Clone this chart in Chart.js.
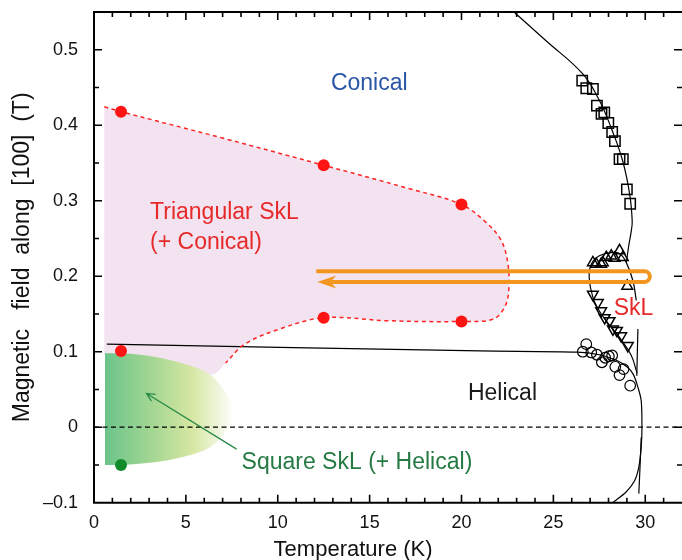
<!DOCTYPE html>
<html>
<head>
<meta charset="utf-8">
<script src="https://cdn.jsdelivr.net/npm/chart.js@4.4.1/dist/chart.umd.min.js"></script>
<style>
  html, body { margin: 0; padding: 0; background: #fff; }
  #caixa { width: 682px; height: 560px; }
</style>
</head>
<body>
<div id="caixa"><canvas id="diagrama"></canvas></div>
<script>
// Eixos
const xTickLabels = [0, 5, 10, 15, 20, 25, 30];
const yTickLabels = [-0.1, 0, 0.1, 0.2, 0.3, 0.4, 0.5];

// Pontos medidos
const redDotT = [1.47, 12.5, 20.0, 20.0, 12.5, 1.47];
const redDotB = [0.418, 0.347, 0.295, 0.140, 0.145, 0.101];
const greenDotT = [1.47];
const greenDotB = [-0.050];

const squareT = [26.57, 26.79, 27.15, 27.37, 27.62, 27.77, 27.99, 28.2, 28.35, 28.6, 28.78, 29.0, 29.18];
const squareB = [0.459, 0.449, 0.448, 0.426, 0.415, 0.417, 0.403, 0.391, 0.379, 0.355, 0.355, 0.315, 0.296];

const triUpT = [27.15, 27.33, 27.6, 27.69, 27.88, 28.15, 28.33, 28.6, 28.78, 29.02];
const triUpB = [0.218, 0.216, 0.216, 0.218, 0.225, 0.227, 0.224, 0.234, 0.225, 0.187];

const triDownT = [27.15, 27.42, 27.6, 27.79, 28.06, 28.24, 28.46, 28.69, 29.05];
const triDownB = [0.176, 0.165, 0.154, 0.145, 0.141, 0.130, 0.128, 0.121, 0.108];

const circleT = [26.79, 26.6, 27.06, 27.37, 27.64, 27.82, 28.02, 28.2, 28.37, 28.6, 28.82, 29.18];
const circleB = [0.110, 0.100, 0.099, 0.096, 0.086, 0.092, 0.094, 0.095, 0.080, 0.069, 0.077, 0.055];

// Fronteiras de fase
const redLineT = [0.56, 1.47, 7.0, 12.5, 17.0, 20.0, 21.35, 22.17, 22.53, 22.57, 22.35, 21.71, 20.0, 16.0, 12.5, 10.1, 8.2, 7.16];
const redLineB = [0.4245, 0.418, 0.383, 0.347, 0.317, 0.295, 0.271, 0.247, 0.216, 0.181, 0.159, 0.143, 0.140, 0.141, 0.145, 0.130, 0.110, 0.085];

const pinkLowT = [6.5, 5.76, 3.95, 2.14, 0.56];
const pinkLowB = [0.070, 0.074, 0.087, 0.094, 0.095];

const greenT = [0.6, 2.14, 3.95, 5.76, 6.67, 7.4, 7.6, 7.4, 6.67, 5.76, 3.95, 2.14, 0.6];
const greenB = [0.098, 0.097, 0.090, 0.077, 0.062, 0.035, 0.020, 0.004, -0.020, -0.033, -0.044, -0.049, -0.050];

const upperT = [22.9, 24.6, 26.6, 27.5, 28.2, 28.77, 29.15, 29.29, 29.24, 29.1, 28.97];
const upperB = [0.549, 0.512, 0.468, 0.433, 0.393, 0.353, 0.309, 0.273, 0.260, 0.240, 0.218];

const pocketT = [29.51, 29.33, 28.97, 28.6, 28.06, 27.5, 27.06, 26.95, 27.15, 27.5, 28.0, 28.6, 29.24, 29.55];
const pocketB = [0.168, 0.194, 0.218, 0.230, 0.231, 0.227, 0.216, 0.198, 0.172, 0.154, 0.137, 0.119, 0.095, 0.072];

const helicalT = [0.7, 21.0, 26.3, 27.5, 28.4, 29.0, 29.35, 29.6, 29.78, 29.82, 29.78, 29.65, 29.42, 28.97, 28.24];
const helicalB = [0.110, 0.101, 0.0995, 0.096, 0.089, 0.080, 0.070, 0.053, 0.035, 0.0, -0.026, -0.053, -0.071, -0.0855, -0.100];

const dashT = [29.6, 29.54, 29.7, 29.78, 29.72, 29.65];
const dashB = [0.130, 0.068, null, -0.0135, -0.05, -0.088];

const zeroT = [0, 32];
const zeroB = [0, 0];

// Setas
const loopT = [12.1, 30.25];
const loopB = [0.2065, 0.1925];
const greenArrowT = [7.76, 2.86];
const greenArrowB = [-0.029, 0.0447];

const familia = "'Liberation Sans', Arial, Helvetica, sans-serif";

const rotulos = [
  { text: 'Conical', T: 14.98, B: 0.455, color: '#2a55a6', align: 'center', size: 23 },
  { text: 'Triangular SkL', T: 3.05, B: 0.2845, color: '#e62a2a', align: 'left', size: 23 },
  { text: '(+ Conical)', T: 3.05, B: 0.2448, color: '#e62a2a', align: 'left', size: 23 },
  { text: 'SkL', T: 28.28, B: 0.157, color: '#e62a2a', align: 'left', size: 23 },
  { text: 'Helical', T: 22.23, B: 0.044, color: '#1a1a1a', align: 'center', size: 23 },
  { text: 'Square SkL (+ Helical)', T: 8.03, B: -0.0466, color: '#247a42', align: 'left', size: 23 },
  { text: 'Temperature (K)', T: 14.1, B: -0.162, color: '#111', align: 'center', size: 22 }
];

function pts(T, B) {
  return T.map((t, i) => ({ x: t, y: B[i] }));
}

function isMajorY(v) {
  return yTickLabels.some(t => Math.abs(t - v) < 1e-6);
}

function gradienteVerde(context) {
  const chart = context.chart;
  const { ctx, chartArea, scales } = chart;
  if (!chartArea || !scales.x) return '#8fd09e';
  const x0 = scales.x.getPixelForValue(greenT[0]);
  const x1 = scales.x.getPixelForValue(Math.max(...greenT));
  const g = ctx.createLinearGradient(x0, 0, x1, 0);
  g.addColorStop(0, '#6cc48a');
  g.addColorStop(0.4, '#a9d894');
  g.addColorStop(0.68, '#d6e7a3');
  g.addColorStop(0.88, '#eef5dc');
  g.addColorStop(1, '#ffffff');
  return g;
}

function linha(data, cor, extra) {
  return Object.assign({
    data: data,
    showLine: true,
    borderColor: cor,
    borderWidth: 1.3,
    pointRadius: 0,
    fill: false,
    tension: 0.4
  }, extra || {});
}

function marcador(data, estilo, raio, extra) {
  return Object.assign({
    data: data,
    showLine: false,
    pointStyle: estilo,
    pointRadius: raio,
    pointBackgroundColor: 'rgba(0,0,0,0)',
    pointBorderColor: '#000',
    pointBorderWidth: 1.5
  }, extra || {});
}

// Moldura com marcas internas
const moldura = {
  id: 'moldura',
  afterDatasetsDraw(chart) {
    const { ctx, chartArea: a, scales: { x, y } } = chart;
    ctx.save();
    ctx.strokeStyle = '#000';
    ctx.lineWidth = 1.6;
    ctx.beginPath();
    x.ticks.forEach(t => {
      if (t.value <= x.min || t.value >= x.max) return;
      const px = x.getPixelForValue(t.value);
      const len = xTickLabels.includes(t.value) ? 8 : 5;
      ctx.moveTo(px, a.bottom);
      ctx.lineTo(px, a.bottom - len);
      ctx.moveTo(px, a.top);
      ctx.lineTo(px, a.top + len);
    });
    y.ticks.forEach(t => {
      if (t.value <= y.min || t.value >= y.max) return;
      const py = y.getPixelForValue(t.value);
      const len = isMajorY(t.value) ? 8 : 5;
      ctx.moveTo(a.left, py);
      ctx.lineTo(a.left + len, py);
      ctx.moveTo(a.right, py);
      ctx.lineTo(a.right - len, py);
    });
    ctx.stroke();
    ctx.lineWidth = 2;
    ctx.beginPath();
    ctx.moveTo(a.right + 2, a.top);
    ctx.lineTo(a.left, a.top);
    ctx.lineTo(a.left, a.bottom);
    ctx.lineTo(a.right + 2, a.bottom);
    ctx.stroke();
    ctx.restore();
  }
};

// Setas e textos
const anotacoes = {
  id: 'anotacoes',
  afterDatasetsDraw(chart) {
    const { ctx, scales: { x, y } } = chart;
    ctx.save();

    // seta laranja
    const xl = x.getPixelForValue(loopT[0]);
    const yt = y.getPixelForValue(loopB[0]);
    const yb = y.getPixelForValue(loopB[1]);
    const r = (yb - yt) / 2;
    const xr = x.getPixelForValue(loopT[1]) - r;
    ctx.strokeStyle = '#f2961f';
    ctx.fillStyle = '#f2961f';
    ctx.lineWidth = 4;
    ctx.lineCap = 'butt';
    ctx.beginPath();
    ctx.moveTo(xl, yt);
    ctx.lineTo(xr, yt);
    ctx.arc(xr, (yt + yb) / 2, r, -Math.PI / 2, Math.PI / 2);
    ctx.lineTo(xl + 14, yb);
    ctx.stroke();
    ctx.beginPath();
    ctx.moveTo(xl + 1, yb);
    ctx.lineTo(xl + 20, yb - 6.5);
    ctx.lineTo(xl + 14, yb);
    ctx.lineTo(xl + 20, yb + 6.5);
    ctx.closePath();
    ctx.fill();

    // seta verde
    const gx0 = x.getPixelForValue(greenArrowT[0]);
    const gy0 = y.getPixelForValue(greenArrowB[0]);
    const gx1 = x.getPixelForValue(greenArrowT[1]);
    const gy1 = y.getPixelForValue(greenArrowB[1]);
    const ang = Math.atan2(gy1 - gy0, gx1 - gx0);
    ctx.strokeStyle = '#2a8a48';
    ctx.lineWidth = 1.3;
    ctx.beginPath();
    ctx.moveTo(gx0, gy0);
    ctx.lineTo(gx1, gy1);
    ctx.moveTo(gx1 - 9 * Math.cos(ang - 0.45), gy1 - 9 * Math.sin(ang - 0.45));
    ctx.lineTo(gx1, gy1);
    ctx.lineTo(gx1 - 9 * Math.cos(ang + 0.45), gy1 - 9 * Math.sin(ang + 0.45));
    ctx.stroke();

    // textos
    ctx.textBaseline = 'middle';
    rotulos.forEach(l => {
      ctx.font = l.size + 'px ' + familia;
      ctx.fillStyle = l.color;
      ctx.textAlign = l.align;
      ctx.fillText(l.text, x.getPixelForValue(l.T), y.getPixelForValue(l.B));
    });
    ctx.restore();
  }
};

const datasets = [
  marcador(pts(redDotT, redDotB), 'circle', 6, { pointBackgroundColor: '#ff1414', pointBorderWidth: 0 }),
  marcador(pts(greenDotT, greenDotB), 'circle', 6, { pointBackgroundColor: '#118a2a', pointBorderWidth: 0 }),
  marcador(pts(squareT, squareB), 'rect', 7.3),
  marcador(pts(triUpT, triUpB), 'triangle', 6.2),
  marcador(pts(triDownT, triDownB), 'triangle', 6.2, { pointRotation: 180 }),
  marcador(pts(circleT, circleB), 'circle', 5.3, { pointBorderWidth: 1.2 }),
  linha(pts(redLineT, redLineB), '#ff2424', { borderWidth: 1.5, borderDash: [4, 3.5], tension: 0.35 }),
  linha(pts(zeroT, zeroB), '#000', { borderWidth: 1.2, borderDash: [5, 3.5], tension: 0 }),
  linha(pts(upperT, upperB), '#000', { borderWidth: 1.2 }),
  linha(pts(pocketT, pocketB), '#000', { borderWidth: 1.2 }),
  linha(pts(helicalT, helicalB), '#000', { borderWidth: 1.2, tension: 0.3 }),
  linha(pts(dashT, dashB), '#000', { borderWidth: 1.2, tension: 0.2, spanGaps: false }),
  linha(pts(greenT, greenB), 'rgba(0,0,0,0)', { fill: 'shape', backgroundColor: gradienteVerde, tension: 0.35 }),
  linha(pts(redLineT.concat(pinkLowT), redLineB.concat(pinkLowB)), 'rgba(0,0,0,0)', { fill: 'shape', backgroundColor: '#f3e2ef', tension: 0.35 })
];

new Chart(document.getElementById('diagrama'), {
  type: 'scatter',
  data: { datasets: datasets },
  options: {
    responsive: true,
    maintainAspectRatio: false,
    animation: false,
    devicePixelRatio: 1,
    events: [],
    layout: { autoPadding: false, padding: { top: 12, left: 0, right: 0, bottom: 0 } },
    plugins: { legend: { display: false }, tooltip: { enabled: false } },
    scales: {
      x: {
        type: 'linear',
        min: 0,
        max: 32,
        afterFit: s => {
          s.height = 57.3;
          s.paddingLeft = 0;
          s.paddingRight = 0;
          s.paddingTop = 0;
          s.paddingBottom = 0;
        },
        grid: { display: false, drawTicks: false },
        border: { display: false },
        ticks: {
          stepSize: 1,
          autoSkip: false,
          maxRotation: 0,
          padding: 10,
          color: '#111',
          font: { family: familia, size: 18 },
          callback: v => xTickLabels.includes(v) ? String(v) : ''
        }
      },
      y: {
        type: 'linear',
        min: -0.1,
        max: 0.55,
        afterFit: s => {
          s.width = 94;
          s.paddingLeft = 0;
          s.paddingRight = 0;
          s.paddingTop = 0;
          s.paddingBottom = 0;
        },
        grid: { display: false, drawTicks: false },
        border: { display: false },
        ticks: {
          stepSize: 0.05,
          autoSkip: false,
          padding: 16,
          color: '#111',
          font: { family: familia, size: 18 },
          callback: function (v) {
            const k = yTickLabels.find(t => Math.abs(t - v) < 1e-6);
            if (k === undefined) return '';
            if (k === 0) return '0';
            return k < 0 ? '\u2013' + (-k).toFixed(1) : k.toFixed(1);
          }
        },
        title: {
          display: true,
          text: 'Magnetic   field  along  [100]  (T)',
          color: '#111',
          font: { family: familia, size: 23, lineHeight: 1 },
          padding: { top: 11, bottom: 0 }
        }
      }
    }
  },
  plugins: [moldura, anotacoes]
});
</script>
</body>
</html>
